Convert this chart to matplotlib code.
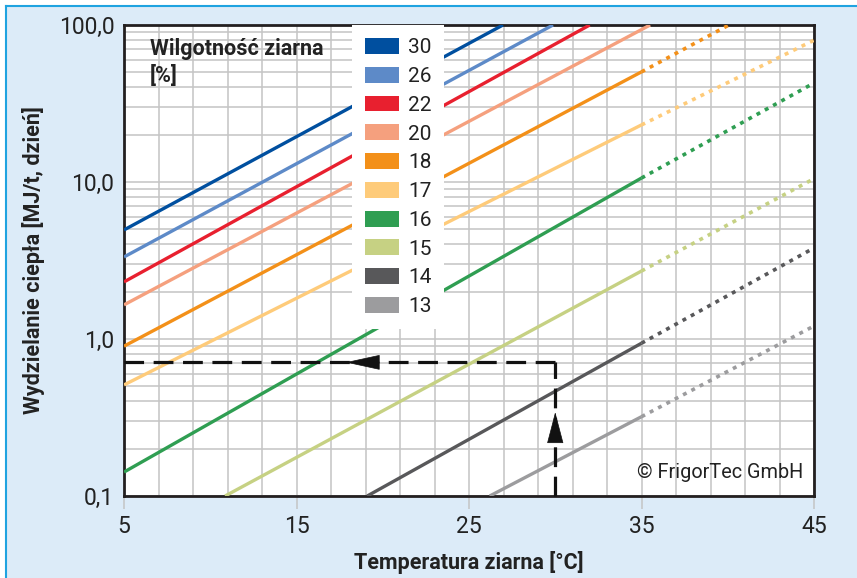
import matplotlib.pyplot as plt
from matplotlib.patches import Rectangle, Patch
from matplotlib.lines import Line2D

plt.rcParams['font.family'] = ['Roboto', 'DejaVu Sans']

# moisture classes and colours
moist = ['30', '26', '22', '20', '18', '17', '16', '15', '14', '13']
colors = ['#004f9f', '#5d8ac8', '#e8202f', '#f5a07e', '#f39019',
          '#fecb7a', '#2f9e52', '#c6d183', '#58585a', '#9c9c9e']

# solid part: start (x, y) -> end (x, y)
x_start = [5, 5, 5, 5, 5, 5, 5, 10.86, 19.1, 26.2]
y_start = [4.95, 3.33, 2.31, 1.65, 0.90, 0.51, 0.142, 0.1, 0.1, 0.1]
x_end = [26.97, 29.87, 32.0, 35.5, 35, 35, 35, 35, 35, 35]
y_end = [100, 100, 100, 100, 50.3, 23.1, 10.6, 2.71, 0.94, 0.32]
# dotted extrapolation (None = no dotted part)
x_dot = [None, None, None, None, 40.07, 45, 45, 45, 45, 45]
y_dot = [None, None, None, None, 100, 80, 42.7, 10.5, 3.8, 1.21]

# example reading
ex_temp = 30
ex_value = 0.71
arrow_up = (0.226, 0.342)     # base, tip (y)
arrow_left = (19.8, 17.85)    # base, tip (x)

fig = plt.figure(figsize=(8.57, 5.78), dpi=100)
fig.patch.set_facecolor('white')
W, H = 857, 578
fig.patches.append(Rectangle((6 / W, 0), 1, 1 - 6 / H, transform=fig.transFigure,
                             facecolor='#dcebf8', edgecolor='none', zorder=-10))
fig.lines.append(Line2D([6 / W, 6 / W], [0, 1 - 6 / H], transform=fig.transFigure,
                        color='#1fa3e0', lw=1.5))
fig.lines.append(Line2D([6 / W, 1], [1 - 6 / H, 1 - 6 / H], transform=fig.transFigure,
                        color='#1fa3e0', lw=1.5))

ax = fig.add_axes([124 / W, 1 - 496 / H, 690 / W, 471 / H])
ax.set_facecolor('white')
ax.set_yscale('log')
ax.set_xlim(5, 45)
ax.set_ylim(0.1, 100)

ax.set_xticks(range(5, 46, 2), minor=True)
ax.set_xticks([5, 15, 25, 35, 45])
ax.grid(True, which='both', color='#c4c4c4', lw=1.1, zorder=0)
ax.set_yticks([0.1, 1, 10, 100])
ax.set_yticklabels(['0,1', '1,0', '10,0', '100,0'])
ax.tick_params(axis='x', which='major', length=9, color='#c4c4c4', width=1.1,
               labelsize=16.5, pad=5, labelcolor='#222222')
ax.tick_params(axis='x', which='minor', length=0)
ax.tick_params(axis='y', which='both', length=0, labelsize=16.5, pad=7,
               labelcolor='#222222')
for s in ax.spines.values():
    s.set_linewidth(2)
    s.set_color('#231f20')

for i in range(len(moist)):
    ax.plot([x_start[i], x_end[i]], [y_start[i], y_end[i]], color=colors[i],
            lw=2.4, solid_capstyle='butt', zorder=3, clip_on=True)
    if x_dot[i] is not None:
        ax.plot([x_end[i], x_dot[i]], [y_end[i], y_dot[i]], color=colors[i],
                lw=2.6, dashes=(1.1, 1.5), dash_capstyle='butt', zorder=3)

# dashed reading lines
ax.plot([ex_temp, ex_temp], [0.1, ex_value], color='#111111', lw=2.3,
        dashes=(6.2, 3), zorder=5, clip_on=False)
ax.plot([ex_temp, 5], [ex_value, ex_value], color='#111111', lw=2.3,
        dashes=(6.2, 3), zorder=5)
ax.annotate('', xy=(ex_temp, arrow_up[1]), xytext=(ex_temp, arrow_up[0]),
            arrowprops=dict(arrowstyle='-|>,head_length=2.1,head_width=0.55',
                            color='#111111', lw=0.5, shrinkA=0, shrinkB=0),
            zorder=6)
ax.annotate('', xy=(arrow_left[1], ex_value), xytext=(arrow_left[0], ex_value),
            arrowprops=dict(arrowstyle='-|>,head_length=2.3,head_width=0.5',
                            color='#111111', lw=0.5, shrinkA=0, shrinkB=0),
            zorder=6)

# legend
handles = [Patch(facecolor=c, edgecolor='none') for c in colors]
leg = ax.legend(handles, moist, loc='upper left', bbox_to_anchor=(0.331, 1.0),
                borderaxespad=0, frameon=True, fancybox=False, fontsize=15,
                handlelength=1.6, handleheight=0.8, labelspacing=0.46,
                handletextpad=0.45, borderpad=0.62)
leg.get_frame().set_facecolor('white')
leg.get_frame().set_edgecolor('none')
leg.get_frame().set_alpha(1)
leg.set_zorder(7)
for t in leg.get_texts():
    t.set_color('#222222')

ax.text(0.038, 0.972, 'Wilgotność ziarna\n[%]', transform=ax.transAxes,
        fontsize=15.5, fontweight='bold', color='#222222', va='top', ha='left',
        linespacing=1.3, zorder=7)
ax.text(0.985, 0.03, '© FrigorTec GmbH', transform=ax.transAxes,
        fontsize=14.3, color='#222222', ha='right', va='bottom', zorder=7)

ax.set_xlabel('Temperatura ziarna [°C]', fontsize=15.5, fontweight='bold',
              color='#222222', labelpad=9)
ax.set_ylabel('Wydzielanie ciepła [MJ/t, dzień]', fontsize=15.5,
              fontweight='bold', color='#222222', labelpad=10)

fig.savefig('out.png', dpi=100, facecolor=fig.get_facecolor())
